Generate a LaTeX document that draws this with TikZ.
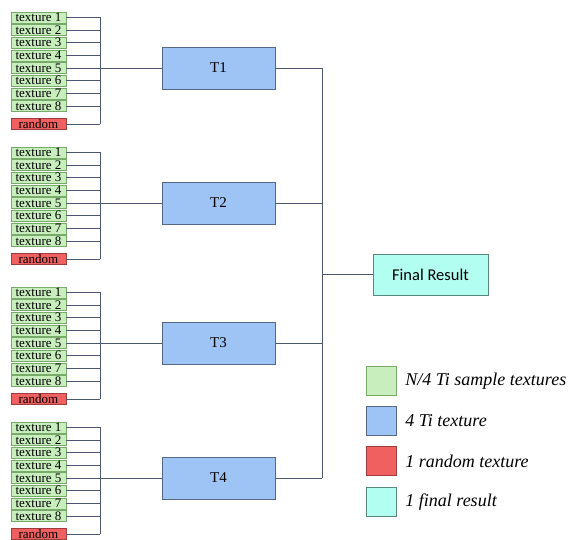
\documentclass[tikz,border=0pt]{standalone}
\usepackage{fontspec}
\setmainfont{Liberation Serif}
\newfontfamily\resultfont{Carlito}
\usetikzlibrary{positioning, calc}

\definecolor{texgreen}{RGB}{200,238,190}
\definecolor{texgreenline}{RGB}{120,170,105}
\definecolor{tblue}{RGB}{158,196,246}
\definecolor{tblueline}{RGB}{85,105,135}
\definecolor{rndred}{RGB}{240,96,96}
\definecolor{rndredline}{RGB}{160,60,60}
\definecolor{rescyan}{RGB}{178,255,242}
\definecolor{rescyanline}{RGB}{90,135,125}
\definecolor{wirecol}{RGB}{75,88,110}

\tikzset{
    texbox/.style={draw=texgreenline, fill=texgreen, minimum width=55pt, minimum height=11pt,
                   inner sep=0pt, font=\fontsize{13}{13}\selectfont},
    rndbox/.style={texbox, draw=rndredline, fill=rndred},
    tbox/.style={draw=tblueline, fill=tblue, minimum width=113pt, minimum height=42pt,
                 font=\fontsize{15}{15}\selectfont},
    resbox/.style={draw=rescyanline, fill=rescyan, minimum width=115pt, minimum height=41pt,
                   font=\resultfont\fontsize{16.5}{16.5}\selectfont},
    keybox/.style={draw=#1line, fill=#1, minimum width=30pt, minimum height=29pt, inner sep=0pt},
    keytext/.style={font=\itshape\fontsize{18}{18}\selectfont, inner sep=0pt},
    wire/.style={draw=wirecol, line width=0.8pt}
}

\begin{document}
\begin{tikzpicture}[x=1pt, y=1pt]
    \useasboundingbox (0,0) rectangle (569,-539);
    % texture groups and their T boxes
    \foreach \g/\gy in {1/68, 2/203, 3/343, 4/478} {
        \node[tbox] (T\g) at (218.5,-\gy) {T\g};
        \foreach \i in {1,...,8}
            \node[texbox] (t\g-\i) at (38.5,{-\gy+(5-\i)*12.7}) {texture \i};
        \node[rndbox] (r\g) at (38.5,{-\gy-56}) {random};
        \coordinate (bus\g) at (100,-\gy);
        \foreach \i in {1,...,8}
            \draw[wire] (t\g-\i.east) -- (t\g-\i.east -| bus\g);
        \draw[wire] (r\g.east) -- (r\g.east -| bus\g);
        \draw[wire] (t\g-1.east -| bus\g) -- (r\g.east -| bus\g);
        \draw[wire] (t\g-5.east) -- (T\g.west);
    }
    % final result
    \node[resbox] (final) at (430.5,-274.5) {Final Result};
    \coordinate (rbus) at (322,0);
    \foreach \g in {1,...,4}
        \draw[wire] (T\g.east) -- (T\g.east -| rbus);
    \draw[wire] (T1.east -| rbus) -- (T4.east -| rbus);
    \draw[wire] (final.west -| rbus) -- (final.west);
    % legend
    \node[keybox=texgreen] (k1) at (381,-381) {};
    \node[keybox=tblue] (k2) at (381,-421) {};
    \node[keybox=rndred] (k3) at (381,-461) {};
    \node[keybox=rescyan] (k4) at (381,-502) {};
    \node[keytext, right=9pt of k1] (l1) {N/4 Ti sample textures};
    \node[keytext, right=9pt of k2] (l2) {4 Ti texture};
    \node[keytext, right=9pt of k3] (l3) {1 random texture};
    \node[keytext, right=9pt of k4] (l4) {1 final result};
\end{tikzpicture}
\end{document}
